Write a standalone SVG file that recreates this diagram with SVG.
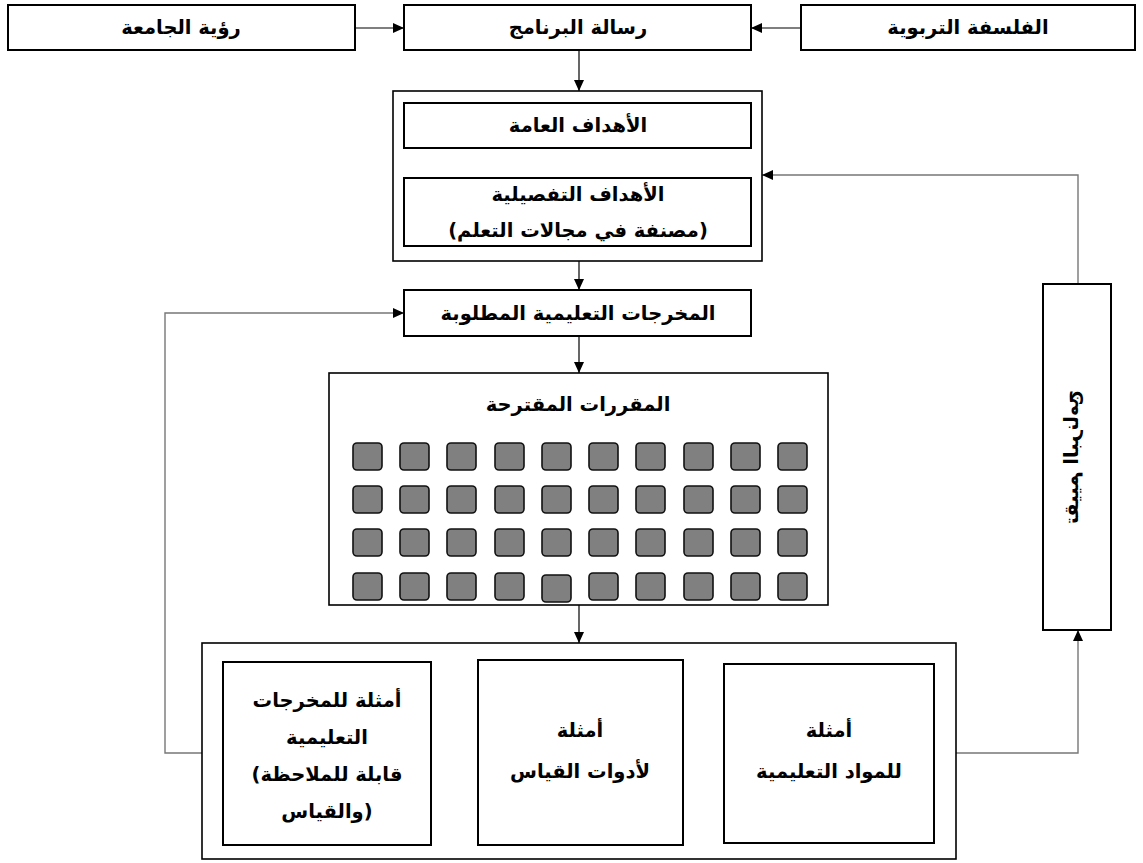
<svg xmlns="http://www.w3.org/2000/svg" width="1143" height="863" viewBox="0 0 1143 863">
<style>
.box{fill:#fff;stroke:#000;stroke-width:2}
.frame{fill:#fff;stroke:#000;stroke-width:1.6}
.t{font-family:"DejaVu Sans","Liberation Sans",sans-serif;font-weight:bold;font-size:19.5px;fill:#000;text-anchor:middle;direction:rtl}
.l{direction:ltr}
.c{fill:none;stroke:#000;stroke-width:1.2}
.g{fill:none;stroke:#777;stroke-width:1.4}
.sq{fill:#808080;stroke:#111;stroke-width:1.6}
</style>
<defs>
<marker id="ah" markerWidth="11" markerHeight="10" refX="11" refY="5" orient="auto" markerUnits="userSpaceOnUse">
<path d="M0,0 L11,5 L0,10 z" fill="#000"/>
</marker>
</defs>
<rect width="1143" height="863" fill="#fff"/>
<g id="connectors">
<line class="c" x1="355" y1="28" x2="404" y2="28" marker-end="url(#ah)"/>
<line class="c" x1="801" y1="28" x2="751" y2="28" marker-end="url(#ah)"/>
<line class="c" x1="579" y1="50" x2="579" y2="91" marker-end="url(#ah)"/>
<line class="c" x1="473" y1="148" x2="473" y2="178" marker-end="url(#ah)"/>
<line class="c" x1="673" y1="178" x2="673" y2="148" marker-end="url(#ah)"/>
<line class="c" x1="579" y1="261" x2="579" y2="290" marker-end="url(#ah)"/>
<line class="c" x1="579" y1="336" x2="579" y2="373" marker-end="url(#ah)"/>
<line class="c" x1="579" y1="605" x2="579" y2="643" marker-end="url(#ah)"/>
<polyline class="g" points="202,753 165,753 165,313 404,313" marker-end="url(#ah)"/>
<polyline class="g" points="956,753 1078,753 1078,630" marker-end="url(#ah)"/>
<polyline class="g" points="1078,284 1078,175 762,175" marker-end="url(#ah)"/>
</g>
<g id="vision">
<rect class="box" x="8" y="5" width="347" height="45"/>
<text class="t" x="181" y="34">رؤية الجامعة</text>
</g>
<g id="mission">
<rect class="box" x="404" y="5" width="347" height="45"/>
<text class="t" x="578" y="34">رسالة البرنامج</text>
</g>
<g id="philosophy">
<rect class="box" x="801" y="5" width="334" height="45"/>
<text class="t" x="968" y="34">الفلسفة التربوية</text>
</g>
<g id="objectives">
<rect class="frame" x="393" y="91" width="369" height="170"/>
<g id="general">
<rect class="box" x="404" y="103" width="347" height="45"/>
<text class="t" x="578" y="132">الأهداف العامة</text>
</g>
<g id="detailed">
<rect class="box" x="404" y="178" width="347" height="68"/>
<text class="t" x="578" y="201">الأهداف التفصيلية</text>
<text class="t" x="578" y="237">(مصنفة في مجالات التعلم)</text>
</g>
</g>
<g id="outcomes">
<rect class="box" x="404" y="290" width="347" height="46"/>
<text class="t" x="578" y="320">المخرجات التعليمية المطلوبة</text>
</g>
<g id="courses">
<rect class="frame" x="329" y="373" width="499" height="232"/>
<text class="t" x="578" y="411">المقررات المقترحة</text>
<g id="course-grid">
<rect class="sq" x="353" y="443" width="29" height="27" rx="4"/><rect class="sq" x="400" y="443" width="29" height="27" rx="4"/><rect class="sq" x="447" y="443" width="29" height="27" rx="4"/><rect class="sq" x="495" y="443" width="29" height="27" rx="4"/><rect class="sq" x="542" y="443" width="29" height="27" rx="4"/><rect class="sq" x="589" y="443" width="29" height="27" rx="4"/><rect class="sq" x="636" y="443" width="29" height="27" rx="4"/><rect class="sq" x="684" y="443" width="29" height="27" rx="4"/><rect class="sq" x="731" y="443" width="29" height="27" rx="4"/><rect class="sq" x="778" y="443" width="29" height="27" rx="4"/>
<rect class="sq" x="353" y="486" width="29" height="27" rx="4"/><rect class="sq" x="400" y="486" width="29" height="27" rx="4"/><rect class="sq" x="447" y="486" width="29" height="27" rx="4"/><rect class="sq" x="495" y="486" width="29" height="27" rx="4"/><rect class="sq" x="542" y="486" width="29" height="27" rx="4"/><rect class="sq" x="589" y="486" width="29" height="27" rx="4"/><rect class="sq" x="636" y="486" width="29" height="27" rx="4"/><rect class="sq" x="684" y="486" width="29" height="27" rx="4"/><rect class="sq" x="731" y="486" width="29" height="27" rx="4"/><rect class="sq" x="778" y="486" width="29" height="27" rx="4"/>
<rect class="sq" x="353" y="529" width="29" height="27" rx="4"/><rect class="sq" x="400" y="529" width="29" height="27" rx="4"/><rect class="sq" x="447" y="529" width="29" height="27" rx="4"/><rect class="sq" x="495" y="529" width="29" height="27" rx="4"/><rect class="sq" x="542" y="529" width="29" height="27" rx="4"/><rect class="sq" x="589" y="529" width="29" height="27" rx="4"/><rect class="sq" x="636" y="529" width="29" height="27" rx="4"/><rect class="sq" x="684" y="529" width="29" height="27" rx="4"/><rect class="sq" x="731" y="529" width="29" height="27" rx="4"/><rect class="sq" x="778" y="529" width="29" height="27" rx="4"/>
<rect class="sq" x="353" y="573" width="29" height="27" rx="4"/><rect class="sq" x="400" y="573" width="29" height="27" rx="4"/><rect class="sq" x="447" y="573" width="29" height="27" rx="4"/><rect class="sq" x="495" y="573" width="29" height="27" rx="4"/><rect class="sq" x="542" y="575" width="29" height="27" rx="4"/><rect class="sq" x="589" y="573" width="29" height="27" rx="4"/><rect class="sq" x="636" y="573" width="29" height="27" rx="4"/><rect class="sq" x="684" y="573" width="29" height="27" rx="4"/><rect class="sq" x="731" y="573" width="29" height="27" rx="4"/><rect class="sq" x="778" y="573" width="29" height="27" rx="4"/>
</g>
</g>
<g id="examples">
<rect class="frame" x="202" y="643" width="754" height="216"/>
<g id="ex-outcomes">
<rect class="box" x="223" y="662" width="208" height="183"/>
<text class="t" x="327" y="707">أمثلة للمخرجات</text>
<text class="t" x="327" y="744">التعليمية</text>
<text class="t l" x="327" y="781">(قابلة للملاحظة</text>
<text class="t l" x="327" y="818">والقياس)</text>
</g>
<g id="ex-tools">
<rect class="box" x="478" y="660" width="205" height="185"/>
<text class="t" x="580" y="737">أمثلة</text>
<text class="t" x="580" y="778">لأدوات القياس</text>
</g>
<g id="ex-materials">
<rect class="box" x="724" y="664" width="210" height="179"/>
<text class="t" x="829" y="737">أمثلة</text>
<text class="t" x="829" y="778">للمواد التعليمية</text>
</g>
</g>
<g id="evaluation">
<rect class="box" x="1043" y="284" width="68" height="346"/>
<text class="t" transform="matrix(0,1,1,0,1071,457)" x="0" y="7">تقييم البرنامج</text>
</g>
</svg>
